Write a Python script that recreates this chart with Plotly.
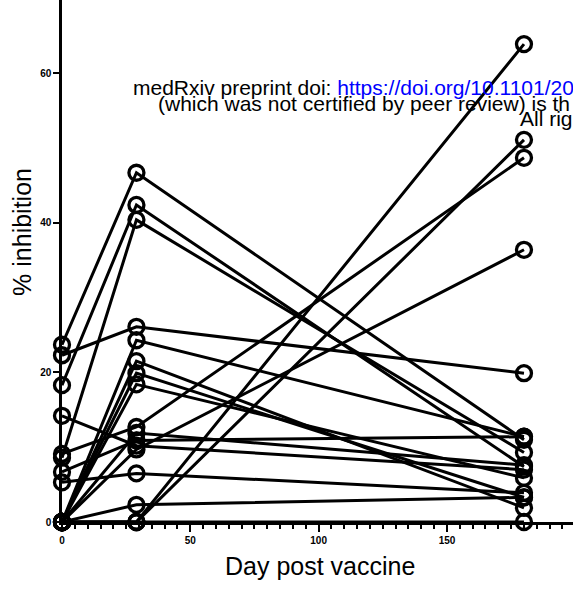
import plotly.graph_objects as go

days = [0, 29, 180]
day0 = [23.7, 22.3, 18.3, 8.6, 0, 0, 0, 0, 9.1, 14.2, 6.7, 0, 5.3, 0, 0, 0, 0, 0]
day29 = [46.7, 26.1, 42.4, 40.4, 24.3, 21.5, 19.9, 18.4, 12.7, 10.2, 10.9, 9.7, 6.5, 11.9, 2.3, 0, 0, 0]
day180 = [11.0, 19.9, 7.4, 9.3, 11.4, 1.9, 3.3, 5.9, 48.7, 7.0, 11.4, 36.4, 3.9, 7.6, 3.3, 63.9, 51.1, 0]

x_ticks = [0, 50, 100, 150]
y_ticks = [0, 20, 40, 60]

fig = go.Figure()
for a, b, c in zip(day0, day29, day180):
    fig.add_trace(go.Scatter(
        x=days, y=[a, b, c], mode="lines+markers",
        line=dict(color="black", width=3),
        marker=dict(symbol="circle-open", size=15, color="black", line=dict(width=3.3)),
        cliponaxis=False, showlegend=False,
    ))

fig.update_layout(
    width=573, height=592,
    margin=dict(l=62, r=0, t=0, b=70, autoexpand=False),
    plot_bgcolor="white", paper_bgcolor="white",
    font=dict(family="Liberation Sans, Arial, sans-serif", color="black"),
    xaxis=dict(range=[0, 199.1], showgrid=False, zeroline=False, automargin=False,
               showline=True, linecolor="black", linewidth=2.5,
               tickvals=x_ticks, ticktext=[f"<b>{v}</b>" for v in x_ticks],
               ticks="outside", ticklen=7, tickwidth=2, tickcolor="black",
               tickfont=dict(size=10),
               minor=dict(dtick=5, tick0=0, ticks="outside", ticklen=4, tickwidth=2, tickcolor="black")),
    yaxis=dict(range=[0, 69.8], showgrid=False, zeroline=False, automargin=False,
               showline=True, linecolor="black", linewidth=2.5,
               tickvals=y_ticks, ticktext=[f"<b>{v}</b>" for v in y_ticks],
               ticks="outside", ticklen=6, tickwidth=2, tickcolor="black",
               tickfont=dict(size=10)),
)

fig.add_annotation(text="% inhibition", xref="paper", yref="paper",
                   x=-0.078, y=0.556, textangle=-90, showarrow=False,
                   font=dict(size=25), xanchor="center", yanchor="middle")
fig.add_annotation(text="Day post vaccine", xref="paper", yref="paper",
                   x=0.504, y=-0.085, showarrow=False,
                   font=dict(size=25), xanchor="center", yanchor="middle")

fig.add_annotation(text="medRxiv preprint doi: <span style='color:blue'>https://doi.org/10.1101/20</span>",
                   xref="paper", yref="paper", x=(131 - 62) / 511, y=(522 - 88) / 522,
                   xanchor="left", yanchor="middle", showarrow=False, font=dict(size=21))
fig.add_annotation(text="(which was not certified by peer review) is th",
                   xref="paper", yref="paper", x=(156 - 62) / 511, y=(522 - 103) / 522,
                   xanchor="left", yanchor="middle", showarrow=False, font=dict(size=21))
fig.add_annotation(text="All righ",
                   xref="paper", yref="paper", x=(518 - 62) / 511, y=(522 - 118) / 522,
                   xanchor="left", yanchor="middle", showarrow=False, font=dict(size=21))

fig.write_html("out.html", config={"displayModeBar": False},
               post_script="document.body.style.margin='0';document.body.style.overflow='hidden';")
